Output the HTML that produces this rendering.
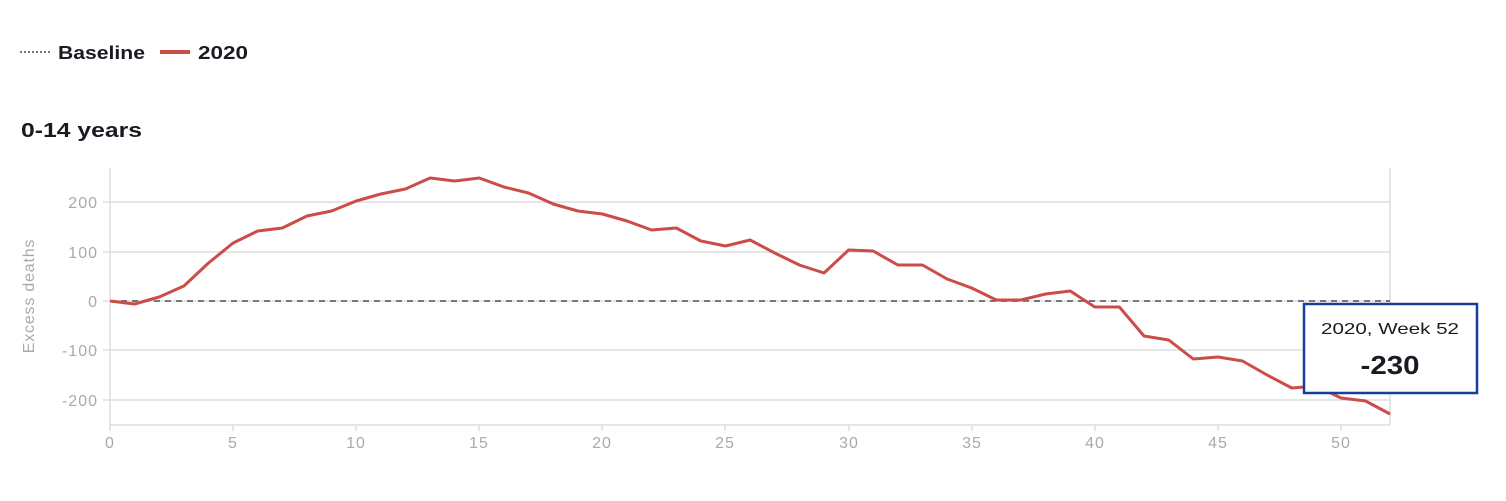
<!DOCTYPE html>
<html><head><meta charset="utf-8"><style>
body{margin:0;background:#fff;width:1506px;height:496px;overflow:hidden;font-family:"Liberation Sans",sans-serif}
</style></head><body>
<svg width="1506" height="496" xmlns="http://www.w3.org/2000/svg" font-family="Liberation Sans, sans-serif">
<line x1="20" y1="52" x2="50" y2="52" stroke="#777" stroke-width="2" stroke-dasharray="2,2"/>
<text x="58" y="59" font-size="18" font-weight="bold" fill="#1a1a22" textLength="87" lengthAdjust="spacingAndGlyphs">Baseline</text>
<line x1="160" y1="52" x2="190" y2="52" stroke="#cc4c47" stroke-width="4"/>
<text x="198" y="59" font-size="18" font-weight="bold" fill="#1a1a22" textLength="50" lengthAdjust="spacingAndGlyphs">2020</text>
<text x="21" y="137" font-size="20" font-weight="bold" fill="#1a1a22" textLength="121" lengthAdjust="spacingAndGlyphs">0-14 years</text>
<g stroke="#ddd" stroke-width="1.5">
<line x1="110" y1="202" x2="1390" y2="202"/><line x1="110" y1="252" x2="1390" y2="252"/>
<line x1="110" y1="301" x2="1390" y2="301"/><line x1="110" y1="350" x2="1390" y2="350"/>
<line x1="110" y1="400" x2="1390" y2="400"/>
<line x1="110" y1="168" x2="110" y2="425"/><line x1="1390" y1="168" x2="1390" y2="425"/>
<line x1="110" y1="425" x2="1390" y2="425"/>
<line x1="103" y1="202" x2="110" y2="202"/><line x1="103" y1="252" x2="110" y2="252"/>
<line x1="103" y1="301" x2="110" y2="301"/><line x1="103" y1="350" x2="110" y2="350"/>
<line x1="103" y1="400" x2="110" y2="400"/>
<line x1="110" y1="425" x2="110" y2="431"/><line x1="233" y1="425" x2="233" y2="431"/>
<line x1="356" y1="425" x2="356" y2="431"/><line x1="479" y1="425" x2="479" y2="431"/>
<line x1="602" y1="425" x2="602" y2="431"/><line x1="725" y1="425" x2="725" y2="431"/>
<line x1="849" y1="425" x2="849" y2="431"/><line x1="972" y1="425" x2="972" y2="431"/>
<line x1="1095" y1="425" x2="1095" y2="431"/><line x1="1218" y1="425" x2="1218" y2="431"/>
<line x1="1341" y1="425" x2="1341" y2="431"/>
</g>
<g font-size="16" fill="#aaa" text-anchor="end" letter-spacing="1">
<text x="98" y="208">200</text><text x="98" y="258">100</text><text x="98" y="307">0</text>
<text x="98" y="356">-100</text><text x="98" y="406">-200</text>
</g>
<g font-size="16" fill="#aaa" text-anchor="middle" letter-spacing="1">
<text x="110" y="448">0</text><text x="233" y="448">5</text><text x="356" y="448">10</text>
<text x="479" y="448">15</text><text x="602" y="448">20</text><text x="725" y="448">25</text>
<text x="849" y="448">30</text><text x="972" y="448">35</text><text x="1095" y="448">40</text>
<text x="1218" y="448">45</text><text x="1341" y="448">50</text>
</g>
<text transform="translate(34,296) rotate(-90)" font-size="16" fill="#aaa" text-anchor="middle" letter-spacing="0.8">Excess deaths</text>
<line x1="110" y1="301" x2="1390" y2="301" stroke="#777" stroke-width="2" stroke-dasharray="6,5"/>
<polyline fill="none" stroke="#cc4c47" stroke-width="3" stroke-linejoin="round" points="110,301 134.6,304 159.2,297 183.9,286 208.5,263 233.1,243 257.7,231 282.3,228 307,216 331.6,211 356.2,201 380.8,194 405.4,189 430.1,178 454.7,181 479.3,178 503.9,187 528.5,193 553.2,204 577.8,211 602.4,214 627,221 651.6,230 676.3,228 700.9,241 725.5,246 750.1,240 774.7,253 799.4,265 824,273 848.6,250 873.2,251 897.8,265 922.5,265 947.1,279 971.7,288 996.3,300 1020.9,300 1045.6,294 1070.2,291 1094.8,307 1119.4,307 1144,336 1168.7,340 1193.3,359 1217.9,357 1242.5,361 1267.1,375 1291.8,388 1316.4,386 1341,398 1365.6,401 1390,414"/>
<rect x="1304" y="304" width="173" height="89" fill="#fff" stroke="#1a3d99" stroke-width="2.5"/>
<text x="1390" y="334" font-size="16" fill="#1a1a22" text-anchor="middle" textLength="138" lengthAdjust="spacingAndGlyphs">2020, Week 52</text>
<text x="1390" y="374" font-size="26" font-weight="bold" fill="#1a1a22" text-anchor="middle" textLength="59" lengthAdjust="spacingAndGlyphs">-230</text>
</svg>
</body></html>
